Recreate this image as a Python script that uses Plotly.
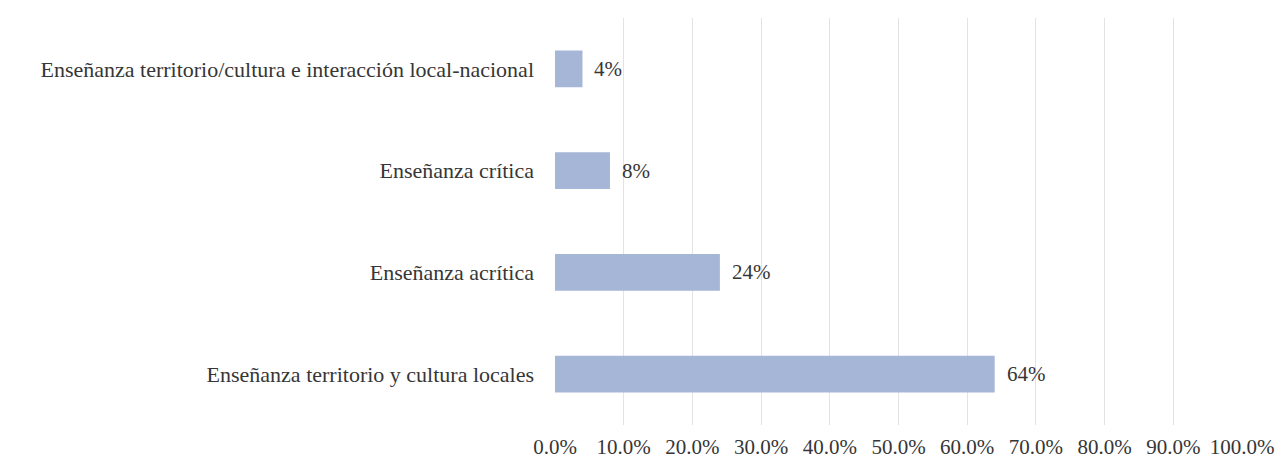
import plotly.graph_objects as go

categories = [
    "Enseñanza territorio y cultura locales",
    "Enseñanza acrítica",
    "Enseñanza crítica",
    "Enseñanza territorio/cultura e interacción local-nacional",
]
shares = [0.64, 0.24, 0.08, 0.04]
value_labels = ["64%", "24%", "8%", "4%"]
tick_values = [i / 10 for i in range(11)]

SERIF = "Liberation Serif"
TEXT_COLOR = "#363636"

fig = go.Figure(
    go.Bar(
        x=shares,
        y=categories,
        orientation="h",
        marker=dict(color="#a6b6d7", line=dict(width=0)),
        width=0.36,
        hoverinfo="x+y",
    )
)

# value labels just to the right of each bar end
for cat, val, lab in zip(categories, shares, value_labels):
    fig.add_annotation(
        x=val,
        y=cat,
        xref="x",
        yref="y",
        text=lab,
        showarrow=False,
        xanchor="left",
        xshift=10,
        font=dict(family=SERIF, size=21, color=TEXT_COLOR),
    )

fig.update_layout(
    width=1275,
    height=459,
    margin=dict(l=555, r=33, t=18, b=34, autoexpand=False),
    paper_bgcolor="white",
    plot_bgcolor="white",
    showlegend=False,
    font=dict(family=SERIF, color=TEXT_COLOR),
    xaxis=dict(
        range=[0, 1],
        tickvals=tick_values,
        tickformat=".1%",
        showgrid=True,
        gridcolor="#e3e3e3",
        gridwidth=1,
        zeroline=False,
        showline=False,
        automargin=False,
        ticklabelstandoff=7,
        tickfont=dict(size=21, color=TEXT_COLOR),
        ticks="",
    ),
    yaxis=dict(
        categoryorder="array",
        categoryarray=categories,
        showgrid=False,
        showline=False,
        automargin=False,
        ticks="",
        ticklabelstandoff=20,
        tickfont=dict(size=22, color=TEXT_COLOR),
    ),
)

fig.write_html("out.html")
